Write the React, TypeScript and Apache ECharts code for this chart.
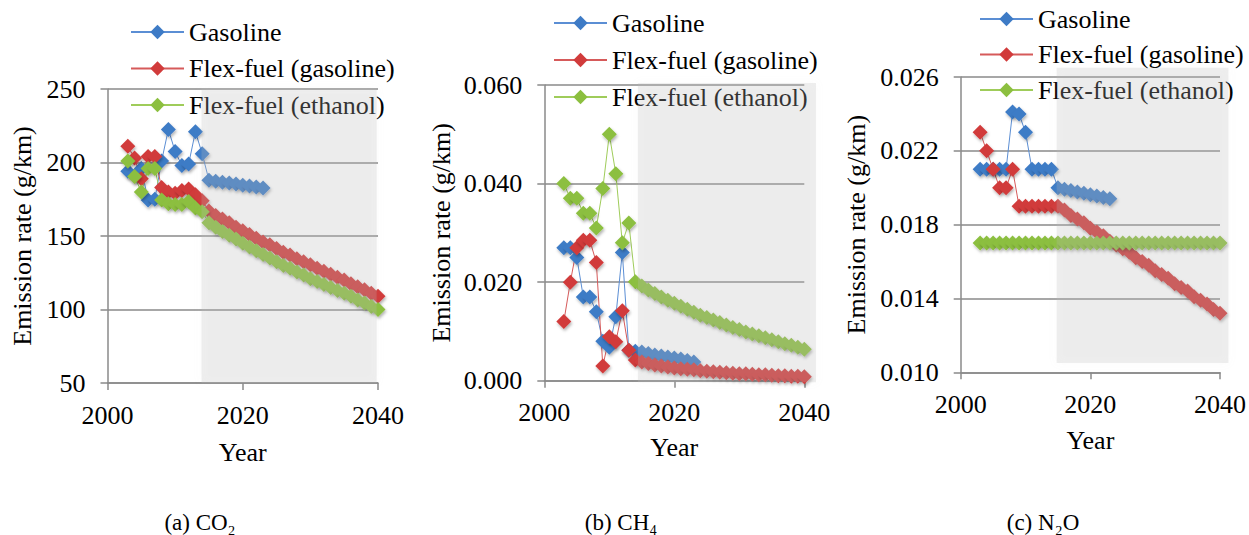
import React, { useEffect, useRef } from "react";
import * as echarts from "echarts";

const FONT = "Liberation Serif";

// ---------- data ----------
const flexYears = [
  2003, 2004, 2005, 2006, 2007, 2008, 2009, 2010, 2011, 2012, 2013, 2014, 2015,
  2016, 2017, 2018, 2019, 2020, 2021, 2022, 2023, 2024, 2025, 2026, 2027, 2028,
  2029, 2030, 2031, 2032, 2033, 2034, 2035, 2036, 2037, 2038, 2039, 2040,
];
const gasolineYears = [
  2003, 2004, 2005, 2006, 2007, 2008, 2009, 2010, 2011, 2012, 2013, 2014, 2015,
  2016, 2017, 2018, 2019, 2020, 2021, 2022, 2023,
];

const seriesNames = ["Gasoline", "Flex-fuel (gasoline)", "Flex-fuel (ethanol)"];
const panelTitles = ["(a) CO\u2082", "(b) CH\u2084", "(c) N\u2082O"];

// (a) CO2, g/km
const co2Gasoline = [
  194, 191, 196, 174.5, 175, 201, 222.5, 207.5, 198, 199, 221, 206, 188, 187.3,
  186.6, 186, 185.3, 184.6, 184, 183.3, 182.6,
];
const co2FlexGasoline = [
  211, 203, 189, 204, 204, 183, 180, 179, 181, 182, 178, 174, 167, 164, 161.5,
  159, 156, 153.5, 151, 148.5, 146, 144, 141.5, 139, 137, 134.5, 132.5, 130.5,
  128, 126, 124, 122, 120, 117.5, 115.5, 113.5, 111, 109,
];
const co2FlexEthanol = [
  201, 190.5, 180, 196, 196, 174.5, 172, 171.5, 171.5, 173.5, 169, 166.5, 159,
  156, 153, 150.5, 148, 145, 142.5, 140, 137.5, 135, 132.5, 130, 128, 125.5,
  123.5, 121, 119, 117, 115, 113, 111, 109, 106.5, 104.5, 102, 100,
];

// (b) CH4, g/km
const ch4Gasoline = [
  0.027, 0.027, 0.025, 0.017, 0.017, 0.014, 0.008, 0.0068, 0.013, 0.026,
  0.0062, 0.006, 0.0058, 0.0055, 0.0052, 0.005, 0.0048, 0.0046, 0.0044, 0.0041,
  0.0038,
];
const ch4FlexGasoline = [
  0.012, 0.02, 0.027, 0.0285, 0.0285, 0.024, 0.003, 0.0089, 0.0079, 0.0142,
  0.0062, 0.0042, 0.0038, 0.0035, 0.0032, 0.003, 0.0028, 0.0026, 0.0024,
  0.0023, 0.0022, 0.002, 0.0019, 0.0018, 0.0017, 0.0016, 0.0015, 0.0014,
  0.0014, 0.0013, 0.0012, 0.0012, 0.0011, 0.001, 0.001, 0.0009, 0.0009, 0.0008,
];
const ch4FlexEthanol = [
  0.04, 0.037, 0.037, 0.034, 0.034, 0.031, 0.039, 0.05, 0.042, 0.028, 0.032,
  0.0201, 0.0192, 0.0184, 0.0177, 0.017, 0.0163, 0.0157, 0.0151, 0.0145,
  0.0139, 0.0133, 0.0128, 0.0123, 0.0118, 0.0113, 0.0108, 0.0104, 0.0099,
  0.0095, 0.0091, 0.0087, 0.0083, 0.0079, 0.0075, 0.0072, 0.0068, 0.0064,
];

// (c) N2O, g/km
const n2oGasoline = [
  0.021, 0.021, 0.021, 0.021, 0.021, 0.0241, 0.024, 0.023, 0.021, 0.021, 0.021,
  0.021, 0.02, 0.01992, 0.01985, 0.01977, 0.0197, 0.01962, 0.01955, 0.01947,
  0.0194,
];
const n2oFlexGasoline = [
  0.023, 0.022, 0.021, 0.02, 0.02, 0.021, 0.019, 0.019, 0.019, 0.019, 0.019,
  0.019, 0.019, 0.0188, 0.0185, 0.0183, 0.0181, 0.0178, 0.0176, 0.0174, 0.0171,
  0.0169, 0.0167, 0.0165, 0.0162, 0.016, 0.0158, 0.0155, 0.0153, 0.0151,
  0.0148, 0.0146, 0.0144, 0.0141, 0.0139, 0.0137, 0.0134, 0.0132,
];
const n2oFlexEthanol = [
  0.017, 0.017, 0.017, 0.017, 0.017, 0.017, 0.017, 0.017, 0.017, 0.017, 0.017,
  0.017, 0.017, 0.017, 0.017, 0.017, 0.017, 0.017, 0.017, 0.017, 0.017, 0.017,
  0.017, 0.017, 0.017, 0.017, 0.017, 0.017, 0.017, 0.017, 0.017, 0.017, 0.017,
  0.017, 0.017, 0.017, 0.017, 0.017,
];

// y-axis scales: [min, max, interval]
const co2Scale = [50, 250, 50];
const ch4Scale = [0, 0.06, 0.02];
const n2oScale = [0.01, 0.026, 0.004];
const xScale = [2000, 2040, 20];

// projection (shaded) period per panel: [x0, x1, y0, y1] in data units
const co2Shade = [2013.9, 2039.8, 50, 250.5];
const ch4Shade = [2014.4, 2041.8, -0.0003, 0.0604];
const n2oShade = [2014.8, 2041.3, 0.0105, 0.0265];

// ---------- layout / style ----------
const panels = [
  {
    grid: { left: 107.5, top: 89, width: 270.5, height: 294 },
    scale: co2Scale,
    decimals: 0,
    data: [co2Gasoline, co2FlexGasoline, co2FlexEthanol],
    shade: co2Shade,
    nameGap: 72,
    xNameGap: 56,
    legend: { left: 130, top: 19, itemGap: 10.5 },
    titleX: 200,
  },
  {
    grid: { left: 544.3, top: 85, width: 260, height: 295.7 },
    scale: ch4Scale,
    decimals: 3,
    data: [ch4Gasoline, ch4FlexGasoline, ch4FlexEthanol],
    shade: ch4Shade,
    nameGap: 90,
    xNameGap: 54,
    legend: { left: 553, top: 10, itemGap: 11 },
    titleX: 621,
  },
  {
    grid: { left: 960.7, top: 77, width: 262.6, height: 295.3 },
    scale: n2oScale,
    decimals: 3,
    data: [n2oGasoline, n2oFlexGasoline, n2oFlexEthanol],
    shade: n2oShade,
    nameGap: 91,
    xNameGap: 55,
    legend: { left: 979, top: 6, itemGap: 9.5 },
    titleX: 1043,
  },
];

const markerColors = ["#3E7BC6", "#D13B3B", "#8CBF3F"];
const lineColors = ["#5B8ED4", "#D65A5A", "#9FCC5A"];
const AXIS_GRAY = "#8a8a8a";
const SHADE = "rgba(185,185,185,0.23)";

function pairs(xs: number[], ys: number[]) {
  return ys.map((v, i) => [xs[i], v]);
}

export default function App() {
  const ref = useRef<HTMLDivElement>(null);

  useEffect(() => {
    document.body.style.margin = "0";
    if (!ref.current) return;
    const chart = echarts.init(ref.current, null, { renderer: "svg" });

    const grid = panels.map((p) => ({ ...p.grid, containLabel: false }));

    const xAxis = panels.map((p, i) => ({
      type: "value",
      gridIndex: i,
      min: xScale[0],
      max: xScale[1],
      interval: xScale[2],
      name: "Year",
      nameLocation: "middle",
      nameGap: p.xNameGap,
      nameTextStyle: { fontFamily: FONT, fontSize: 26, color: "#000" },
      axisLine: { show: true, onZero: false, lineStyle: { color: AXIS_GRAY, width: 1.5 } },
      axisTick: { show: true, length: 7, lineStyle: { color: AXIS_GRAY, width: 1.5 } },
      axisLabel: {
        fontFamily: FONT,
        fontSize: 26,
        color: "#000",
        margin: 19,
        formatter: (v: number) => String(v),
      },
      splitLine: { show: false },
    }));

    const yAxis = panels.map((p, i) => ({
      type: "value",
      gridIndex: i,
      min: p.scale[0],
      max: p.scale[1],
      interval: p.scale[2],
      name: "Emission rate (g/km)",
      nameLocation: "middle",
      nameGap: p.nameGap,
      nameTextStyle: { fontFamily: FONT, fontSize: 26, color: "#000" },
      axisLine: { show: true, onZero: false, lineStyle: { color: AXIS_GRAY, width: 1.5 } },
      axisTick: { show: true, length: 7, lineStyle: { color: AXIS_GRAY, width: 1.5 } },
      axisLabel: {
        fontFamily: FONT,
        fontSize: 26,
        color: "#000",
        margin: 22,
        formatter: (v: number) => v.toFixed(p.decimals),
      },
      splitLine: { show: true, lineStyle: { color: AXIS_GRAY, width: 1.5 } },
    }));

    const series: any[] = [];
    panels.forEach((p, i) => {
      p.data.forEach((vals, k) => {
        series.push({
          type: "line",
          name: seriesNames[k],
          xAxisIndex: i,
          yAxisIndex: i,
          data: pairs(k === 0 ? gasolineYears : flexYears, vals),
          symbol: "diamond",
          symbolSize: 15,
          showAllSymbol: true,
          clip: false,
          z: 2,
          lineStyle: { color: lineColors[k], width: 1 },
          itemStyle: {
            color: markerColors[k],
            shadowBlur: 3,
            shadowOffsetX: 1,
            shadowOffsetY: 2,
            shadowColor: "rgba(0,0,0,0.3)",
          },
          emphasis: { disabled: true },
        });
      });
    });

    const legend = panels.map((p) => ({
      orient: "vertical",
      left: p.legend.left,
      top: p.legend.top,
      padding: 0,
      itemWidth: 53,
      itemHeight: 18,
      itemGap: p.legend.itemGap,
      selectedMode: false,
      data: seriesNames,
      textStyle: { fontFamily: FONT, fontSize: 26, color: "#000" },
    }));

    chart.setOption({
      animation: false,
      backgroundColor: "#fff",
      textStyle: { fontFamily: FONT },
      grid,
      xAxis,
      yAxis,
      series,
      legend,
    });

    const shadeGraphics = panels.map((p, i) => {
      const [x0, x1, y0, y1] = p.shade;
      const a = chart.convertToPixel({ gridIndex: i } as any, [x0, y1]) as number[];
      const b = chart.convertToPixel({ gridIndex: i } as any, [x1, y0]) as number[];
      return {
        type: "rect",
        z: 100,
        silent: true,
        shape: { x: a[0], y: a[1], width: b[0] - a[0], height: b[1] - a[1] },
        style: {
          fill: SHADE,
          shadowBlur: 8,
          shadowColor: SHADE,
          shadowOffsetX: 0,
          shadowOffsetY: 0,
        },
      };
    });

    const titles = panels.map((p, i) => ({
      type: "text",
      z: 100,
      x: p.titleX,
      y: 522,
      style: {
        text: panelTitles[i],
        fontFamily: FONT,
        fontSize: 23,
        fill: "#000",
        align: "center",
        verticalAlign: "middle",
      },
    }));

    chart.setOption({ graphic: [...shadeGraphics, ...titles] });

    return () => chart.dispose();
  }, []);

  return <div ref={ref} style={{ width: 1249, height: 535 }} />;
}
